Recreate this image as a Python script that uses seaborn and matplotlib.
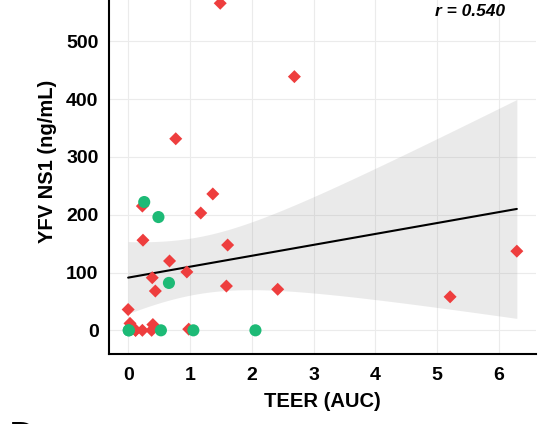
import numpy as np
import pandas as pd
import matplotlib
matplotlib.use("Agg")
import matplotlib.pyplot as plt
import seaborn as sns

# ---- data ----
teer_red = [0.00, 0.03, 0.12, 0.12, 0.23, 0.23, 0.24, 0.38, 0.39, 0.40, 0.44, 0.67,
            0.77, 0.95, 0.98, 1.175, 1.37, 1.49, 1.59, 1.61, 2.42, 2.69, 5.21, 6.29]
ns1_red = [36, 12, 0, 0, 0, 215, 156, 0, 91, 10, 68, 120,
           331.5, 101, 2, 203, 236, 566, 76.6, 147.6, 71, 439, 58, 137]
teer_green = [0.01, 0.01, 0.26, 0.49, 0.53, 0.66, 1.055, 2.06]
ns1_green = [0, 0, 222, 196, 0, 82, 0, 0]
group_names = ["A", "B"]
x_ticks = [0, 1, 2, 3, 4, 5, 6]
y_ticks = [0, 100, 200, 300, 400, 500]
r_label = "r = 0.540"

df = pd.DataFrame({
    "teer": teer_red + teer_green,
    "ns1": ns1_red + ns1_green,
    "group": [group_names[0]] * len(teer_red) + [group_names[1]] * len(teer_green),
})

sns.set_style("white")
plt.rcParams["font.family"] = ["Liberation Sans", "DejaVu Sans"]

W, H = 539, 424
fig = plt.figure(figsize=(W / 100, H / 100), dpi=100)
left_px, right_px, bottom_px, top_px = 109, 536, 354.3, -32
ax = fig.add_axes([left_px / W, (H - bottom_px) / H,
                   (right_px - left_px) / W, (bottom_px - top_px) / H])

ax.grid(True, color="#EBEBEB", linewidth=0.8)
ax.set_axisbelow(True)

# analytic 95% confidence band of the linear fit (as in a lm smooth)
x = df["teer"].to_numpy(float)
y = df["ns1"].to_numpy(float)
n = len(x)
slope, intercept = np.polyfit(x, y, 1)
resid = y - (intercept + slope * x)
s_err = np.sqrt(np.sum(resid ** 2) / (n - 2))
try:
    from scipy import stats
    t_val = stats.t.ppf(0.975, n - 2)
except Exception:
    t_val = 2.04
grid_x = np.linspace(x.min(), x.max(), 80)
sxx = np.sum((x - x.mean()) ** 2)
half = t_val * s_err * np.sqrt(1 / n + (grid_x - x.mean()) ** 2 / sxx)
fit = intercept + slope * grid_x
ax.fill_between(grid_x, fit - half, fit + half, color="#999999", alpha=0.2,
                linewidth=0, zorder=2)

sns.regplot(data=df, x="teer", y="ns1", scatter=False, ax=ax, ci=None,
            color="black", line_kws={"linewidth": 1.5, "zorder": 3}, truncate=True)

palette = {group_names[0]: "#EE3E3E", group_names[1]: "#1DBA76"}
sns.scatterplot(data=df[df.group == group_names[0]], x="teer", y="ns1", marker="D",
                s=44, color=palette[group_names[0]], edgecolor="none", ax=ax, zorder=4,
                legend=False)
sns.scatterplot(data=df[df.group == group_names[1]], x="teer", y="ns1", marker="o",
                s=76, color=palette[group_names[1]], edgecolor="none", ax=ax, zorder=4,
                legend=False)

ax.set_xlim(-0.31, 6.6)
ax.set_ylim(-41.5, 627)
ax.set_xticks(x_ticks)
ax.set_yticks(y_ticks)

for s in ["top", "right"]:
    ax.spines[s].set_visible(False)
for s in ["left", "bottom"]:
    ax.spines[s].set_color("black")
    ax.spines[s].set_linewidth(1.5)

ax.tick_params(axis="both", which="major", direction="out", length=4.5, width=1.4,
               color="black", pad=3, labelsize=14, labelcolor="black")
ax.tick_params(axis="x", pad=4.5)
for lab in ax.get_xticklabels() + ax.get_yticklabels():
    lab.set_fontweight("bold")

ax.set_xlabel("TEER (AUC)", fontsize=14.5, fontweight="bold", color="black", labelpad=6)
ax.set_ylabel("YFV NS1 (ng/mL)", fontsize=14.5, fontweight="bold", color="black", labelpad=6.5)

fig.text(505 / W, (H - 12) / H, r_label, ha="right", va="center",
         fontsize=12.5, fontweight="bold", fontstyle="italic", color="black")
fig.text(8.4 / W, -0.058, "D", ha="left", va="baseline", fontsize=27,
         color="black")

fig.savefig("out.png", dpi=100)
